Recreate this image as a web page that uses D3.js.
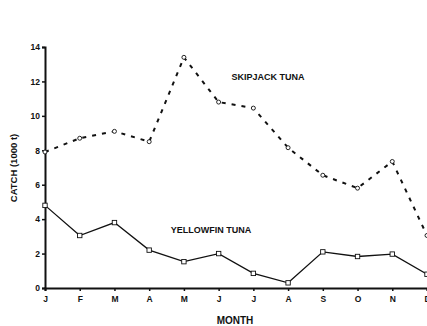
<!DOCTYPE html>
<html>
<head>
<meta charset="utf-8">
<script src="https://cdn.jsdelivr.net/npm/d3@7"></script>
<style>
  body { margin: 0; background: #fff; }
  text { font-family: "Liberation Sans", Arial, sans-serif; font-weight: bold; fill: #111; }
</style>
</head>
<body>
<div class="chart"></div>
<script>
// data
const months = ["J", "F", "M", "A", "M", "J", "J", "A", "S", "O", "N", "D"];
const skipjack = [7.9, 8.7, 9.1, 8.5, 13.4, 10.8, 10.45, 8.15, 6.55, 5.8, 7.35, 3.05];
const yellowfin = [4.8, 3.05, 3.8, 2.2, 1.53, 2.0, 0.85, 0.3, 2.1, 1.83, 1.97, 0.8];
const yTicks = [0, 2, 4, 6, 8, 10, 12, 14];

const width = 427, height = 326;
const margin = ({top: 47, right: 0, bottom: 38, left: 45});

const svg = d3.select(".chart")
    .append('svg')
    .attr('width', width)
    .attr('height', height);

// scales
const xScale = d3.scaleLinear()
    .domain([0, months.length - 1])
    .range([margin.left, 427]);

const yScale = d3.scaleLinear()
    .domain([0, 14])
    .range([height - margin.bottom, margin.top]);

// axes
const xAxis = d3.axisBottom(xScale)
    .tickValues(d3.range(months.length))
    .tickFormat(i => months[i])
    .tickSize(3)
    .tickPadding(5);

const yAxis = d3.axisLeft(yScale)
    .tickValues(yTicks)
    .tickSize(3)
    .tickPadding(2);

svg.append('g')
    .attr('class', 'axis x-axis')
    .attr('transform', 'translate(0,' + yScale(0) + ')')
    .call(xAxis)
    .call(g => g.select('.domain').attr('stroke-width', 2).attr('stroke', '#111'))
    .call(g => g.selectAll('.tick line').attr('stroke-width', 1.5).attr('stroke', '#111'))
    .call(g => g.selectAll('.tick text').attr('font-size', 8.5).attr('font-family', null).attr('fill', null));

svg.append('g')
    .attr('class', 'axis y-axis')
    .attr('transform', 'translate(' + margin.left + ',0)')
    .call(yAxis)
    .call(g => g.select('.domain').attr('stroke-width', 2).attr('stroke', '#111'))
    .call(g => g.selectAll('.tick line').attr('stroke-width', 1.5).attr('stroke', '#111'))
    .call(g => g.selectAll('.tick text').attr('font-size', 8.5).attr('font-family', null).attr('fill', null));

// axis titles
svg.append('text')
    .text("MONTH")
    .attr('font-size', 10)
    .attr('text-anchor', 'middle')
    .attr('x', 235)
    .attr('y', 324);

svg.append('text')
    .text("CATCH (1000 t)")
    .attr('font-size', 9.5)
    .attr('text-anchor', 'middle')
    .attr('transform', 'translate(17,168) rotate(-90)');

// line generator
const line = d3.line()
    .x((d, i) => xScale(i))
    .y(d => yScale(d));

// skipjack, dashed
svg.append('path')
    .datum(skipjack)
    .attr('fill', 'none')
    .attr('stroke', '#111')
    .attr('stroke-width', 2)
    .attr('stroke-dasharray', '4,6')
    .attr('d', line);

svg.append('g')
    .selectAll('circle')
    .data(skipjack)
    .enter()
    .append('circle')
    .attr('cx', (d, i) => xScale(i))
    .attr('cy', d => yScale(d))
    .attr('r', 2)
    .attr('fill', 'white')
    .attr('stroke', '#111')
    .attr('stroke-width', 0.9);

// yellowfin, solid
svg.append('path')
    .datum(yellowfin)
    .attr('fill', 'none')
    .attr('stroke', '#111')
    .attr('stroke-width', 1.3)
    .attr('d', line);

svg.append('g')
    .selectAll('rect')
    .data(yellowfin)
    .enter()
    .append('rect')
    .attr('x', (d, i) => xScale(i) - 2.2)
    .attr('y', d => yScale(d) - 2.2)
    .attr('width', 4.4)
    .attr('height', 4.4)
    .attr('fill', 'white')
    .attr('stroke', '#111')
    .attr('stroke-width', 0.9);

// series labels
svg.append('text')
    .text("SKIPJACK TUNA")
    .attr('font-size', 9)
    .attr('text-anchor', 'middle')
    .attr('x', 268)
    .attr('y', 80);

svg.append('text')
    .text("YELLOWFIN TUNA")
    .attr('font-size', 9)
    .attr('text-anchor', 'middle')
    .attr('x', 211)
    .attr('y', 233);
</script>
</body>
</html>
